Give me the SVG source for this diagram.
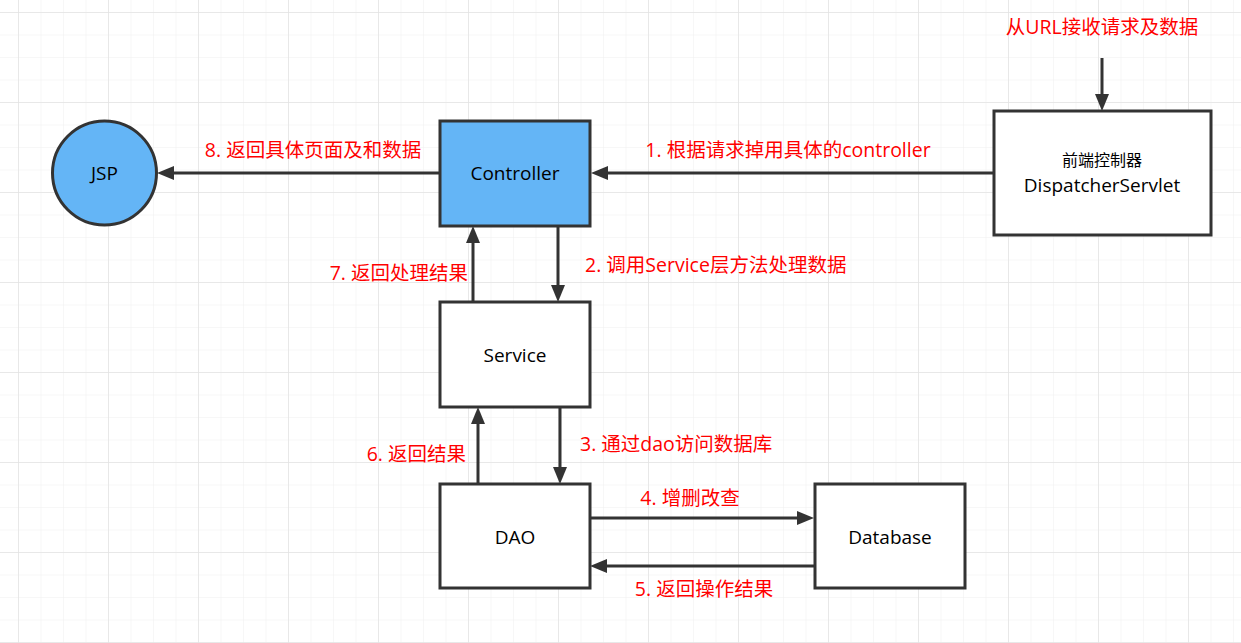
<svg xmlns="http://www.w3.org/2000/svg" width="1241" height="643" viewBox="0 0 1241 643">
<style>
.box{fill:#ffffff;stroke:#333333;stroke-width:3}
.blue{fill:#64b5f6}
.lbl{font-family:"Open Sans","Noto Sans CJK SC",sans-serif;font-size:19px;fill:#000000;text-anchor:middle;dominant-baseline:central}
.red{font-family:"Open Sans","Noto Sans CJK SC",sans-serif;font-size:19.5px;fill:#ff0000;dominant-baseline:central}
.conn{stroke:#333333;stroke-width:3;fill:none;marker-end:url(#arr)}
</style>
<defs>
<pattern id="minor" x="18" y="12" width="22.5" height="22.5" patternUnits="userSpaceOnUse">
<path d="M0,0 H22.5 M0,0 V22.5" stroke="#f0f0f0" stroke-width="1" fill="none"/>
</pattern>
<pattern id="major" x="18" y="12" width="90" height="90" patternUnits="userSpaceOnUse">
<path d="M0,0 H90 M0,0 V90" stroke="#e4e4e4" stroke-width="1.5" fill="none"/>
</pattern>
<marker id="arr" markerUnits="userSpaceOnUse" markerWidth="18" markerHeight="14" refX="0" refY="7" orient="auto">
<path d="M0,0 L17,7 L0,14 z" fill="#333333"/>
</marker>
</defs>
<rect width="1241" height="643" fill="#ffffff"/>
<rect width="1241" height="643" fill="url(#minor)"/>
<rect width="1241" height="643" fill="url(#major)"/>

<g id="connectors">
<path class="conn" d="M1102,58 V94"/>
<path class="conn" d="M994,173 H608"/>
<path class="conn" d="M440,173 H174"/>
<path class="conn" d="M558,226 V285"/>
<path class="conn" d="M473,302 V243"/>
<path class="conn" d="M560,407 V467"/>
<path class="conn" d="M478,484 V424"/>
<path class="conn" d="M590,518 H797"/>
<path class="conn" d="M814,566 H607"/>
</g>

<g id="jsp">
<circle class="box blue" cx="104.5" cy="173" r="52"/>
<text class="lbl" x="104.5" y="173">JSP</text>
</g>
<g id="controller">
<rect class="box blue" x="440" y="121" width="150" height="105"/>
<text class="lbl" x="515" y="173">Controller</text>
</g>
<g id="dispatcher">
<rect class="box" x="994" y="111" width="217" height="124"/>
<text class="lbl" x="1102" y="160" style="font-size:16px">前端控制器</text>
<text class="lbl" x="1102" y="185">DispatcherServlet</text>
</g>
<g id="service">
<rect class="box" x="440" y="302" width="150" height="105"/>
<text class="lbl" x="515" y="355">Service</text>
</g>
<g id="dao">
<rect class="box" x="440" y="484" width="150" height="104"/>
<text class="lbl" x="515" y="537">DAO</text>
</g>
<g id="database">
<rect class="box" x="815" y="484" width="150" height="104"/>
<text class="lbl" x="890" y="537">Database</text>
</g>

<g id="labels">
<text class="red" x="1102" y="26" text-anchor="middle">从URL接收请求及数据</text>
<text class="red" x="788" y="149" text-anchor="middle">1. 根据请求掉用具体的controller</text>
<text class="red" x="313" y="149" text-anchor="middle">8. 返回具体页面及和数据</text>
<text class="red" x="585" y="264">2. 调用Service层方法处理数据</text>
<text class="red" x="468" y="272" text-anchor="end">7. 返回处理结果</text>
<text class="red" x="580" y="443">3. 通过dao访问数据库</text>
<text class="red" x="466" y="453" text-anchor="end">6. 返回结果</text>
<text class="red" x="690" y="497" text-anchor="middle">4. 增删改查</text>
<text class="red" x="704" y="588" text-anchor="middle">5. 返回操作结果</text>
</g>
</svg>
